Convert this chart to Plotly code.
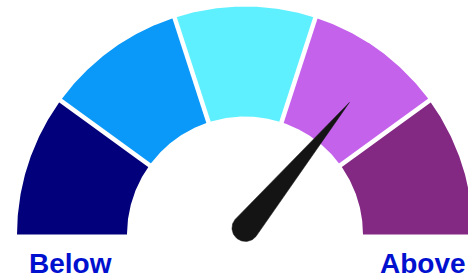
import numpy as np
import plotly.graph_objects as go

# ---- data ----
segment_edges = [0, 1, 2, 3, 4, 5]
segment_colors = ["#02007a", "#0a99f8", "#5ef0ff", "#c462ec", "#832883"]
needle_value = 3.6
end_labels = ["Below", "Above"]

# ---- geometry (pixels) ----
W, H = 468, 279
CX, CY = 245.0, 234.5
R_OUT, R_IN = 228.0, 118.0
vmin, vmax = segment_edges[0], segment_edges[-1]


def ang(v):
    # value -> angle (rad), 180deg at vmin, 0deg at vmax
    return np.pi * (1 - (v - vmin) / (vmax - vmin))


def pt(a, r, cx=CX, cy=CY):
    return cx + r * np.cos(a), cy - r * np.sin(a)


fig = go.Figure()

for i, col in enumerate(segment_colors):
    a0, a1 = ang(segment_edges[i]), ang(segment_edges[i + 1])
    t = np.linspace(a0, a1, 80)
    xo, yo = pt(t, R_OUT)
    xi, yi = pt(t[::-1], R_IN)
    fig.add_trace(go.Scatter(x=np.r_[xo, xi], y=np.r_[yo, yi], fill="toself",
                             fillcolor=col, mode="lines", line=dict(width=0),
                             hoverinfo="skip", showlegend=False))

for e in segment_edges[1:-1]:
    a = ang(e)
    x0, y0 = pt(a, R_IN - 2)
    x1, y1 = pt(a, R_OUT + 2)
    fig.add_trace(go.Scatter(x=[x0, x1], y=[y0, y1], mode="lines",
                             line=dict(color="white", width=4.5),
                             hoverinfo="skip", showlegend=False))

# needle
NX, NY = 245.5, 228.0
NR, NL = 13.5, 163.0
a = ang(needle_value)
tip = pt(a, NL, NX, NY)
cap_t = np.linspace(a + np.pi / 2, a + 3 * np.pi / 2, 40)
cx_, cy_ = pt(cap_t, NR, NX, NY)
fig.add_trace(go.Scatter(x=np.r_[cx_, tip[0], cx_[0]], y=np.r_[cy_, tip[1], cy_[0]],
                         fill="toself", fillcolor="#141414", mode="lines",
                         line=dict(width=0.5, color="#141414"),
                         hoverinfo="skip", showlegend=False))

label_x = [(CX - R_OUT + CX - R_IN) / 2 - 2, (CX + R_IN + CX + R_OUT) / 2 + 5]
for lx, txt in zip(label_x, end_labels):
    fig.add_annotation(x=lx, y=277.5, text=f"<b>{txt}</b>", showarrow=False,
                       xanchor="center", yanchor="bottom", yshift=-3,
                       font=dict(family="Liberation Sans, Arial, sans-serif",
                                 size=28, color="#0010cf"))

fig.update_layout(width=W, height=H, margin=dict(l=0, r=0, t=0, b=0),
                  paper_bgcolor="white", plot_bgcolor="white",
                  xaxis=dict(range=[0, W], visible=False, fixedrange=True),
                  yaxis=dict(range=[H, 0], visible=False, fixedrange=True))

fig.write_html("out.html", config={"displayModeBar": False},
               post_script="document.body.style.margin='0';document.body.style.overflow='hidden';")
